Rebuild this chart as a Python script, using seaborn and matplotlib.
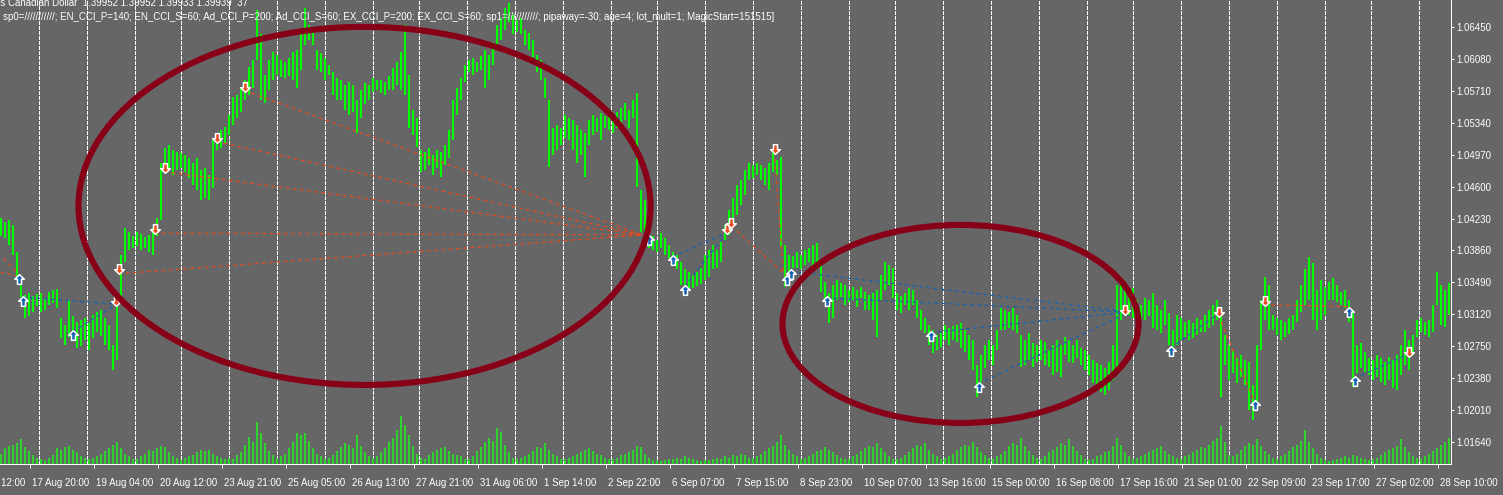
"""
MT4-style H2 bar chart with trade arrows, volumes and two hand-drawn ellipses.
"""
import matplotlib
matplotlib.use("Agg")
import matplotlib.pyplot as plt
import matplotlib.transforms as mtransforms
from matplotlib.patches import Ellipse
from matplotlib.path import Path
import numpy as np
import seaborn as sns

# ---------------- data (one entry per H2 bar) ----------------
highs = [
    1.0424, 1.0419, 1.0421, 1.0416, 1.0384, 1.0357, 1.0335, 1.0337, 1.0333, 1.0336,
    1.0337, 1.0331, 1.0338, 1.0340, 1.0341, 1.0308, 1.0300, 1.0329, 1.0310, 1.0303,
    1.0306, 1.0308, 1.0302, 1.0311, 1.0315, 1.0317, 1.0308, 1.0300, 1.0277, 1.0329,
    1.0381, 1.0412, 1.0407, 1.0403, 1.0407, 1.0405, 1.0402, 1.0404, 1.0412, 1.0424,
    1.0487, 1.0505, 1.0508, 1.0502, 1.0500, 1.0499, 1.0497, 1.0493, 1.0487, 1.0493,
    1.0479, 1.0482, 1.0473, 1.0514, 1.0520, 1.0526, 1.0529, 1.0543, 1.0564, 1.0566,
    1.0574, 1.0583, 1.0598, 1.0607, 1.0664, 1.0636, 1.0589, 1.0607, 1.0616, 1.0612,
    1.0607, 1.0604, 1.0609, 1.0616, 1.0618, 1.0636, 1.0667, 1.0647, 1.0644, 1.0618,
    1.0615, 1.0609, 1.0601, 1.0593, 1.0586, 1.0583, 1.0578, 1.0581, 1.0578, 1.0560,
    1.0572, 1.0580, 1.0578, 1.0586, 1.0583, 1.0583, 1.0581, 1.0588, 1.0597, 1.0604,
    1.0616, 1.0647, 1.0589, 1.0549, 1.0539, 1.0502, 1.0500, 1.0505, 1.0497, 1.0502,
    1.0500, 1.0508, 1.0526, 1.0560, 1.0574, 1.0586, 1.0601, 1.0607, 1.0609, 1.0604,
    1.0611, 1.0618, 1.0612, 1.0627, 1.0647, 1.0655, 1.0667, 1.0673, 1.0659, 1.0653,
    1.0655, 1.0641, 1.0638, 1.0630, 1.0612, 1.0607, 1.0586, 1.0560, 1.0528, 1.0531,
    1.0528, 1.0543, 1.0539, 1.0537, 1.0531, 1.0526, 1.0522, 1.0537, 1.0543, 1.0539,
    1.0545, 1.0542, 1.0546, 1.0539, 1.0546, 1.0551, 1.0557, 1.0549, 1.0560, 1.0568,
    1.0456, 1.0444, 1.0407, 1.0403, 1.0398, 1.0406, 1.0401, 1.0392, 1.0384, 1.0381,
    1.0373, 1.0364, 1.0361, 1.0358, 1.0361, 1.0366, 1.0381, 1.0387, 1.0392, 1.0387,
    1.0396, 1.0416, 1.0433, 1.0447, 1.0462, 1.0468, 1.0479, 1.0487, 1.0485, 1.0487,
    1.0485, 1.0482, 1.0487, 1.0502, 1.0491, 1.0494, 1.0392, 1.0381, 1.0380, 1.0384,
    1.0381, 1.0387, 1.0389, 1.0392, 1.0395, 1.0369, 1.0350, 1.0337, 1.0346, 1.0352,
    1.0348, 1.0346, 1.0340, 1.0344, 1.0340, 1.0344, 1.0338, 1.0335, 1.0337, 1.0340,
    1.0358, 1.0373, 1.0369, 1.0366, 1.0337, 1.0333, 1.0337, 1.0343, 1.0340, 1.0329,
    1.0317, 1.0308, 1.0300, 1.0294, 1.0288, 1.0291, 1.0300, 1.0296, 1.0299, 1.0300,
    1.0302, 1.0294, 1.0288, 1.0282, 1.0254, 1.0265, 1.0277, 1.0282, 1.0277, 1.0294,
    1.0320, 1.0317, 1.0315, 1.0320, 1.0311, 1.0288, 1.0282, 1.0291, 1.0279, 1.0277,
    1.0282, 1.0280, 1.0271, 1.0277, 1.0282, 1.0277, 1.0286, 1.0282, 1.0277, 1.0282,
    1.0273, 1.0271, 1.0265, 1.0259, 1.0256, 1.0254, 1.0250, 1.0257, 1.0277, 1.0346,
    1.0350, 1.0340, 1.0335, 1.0343, 1.0329, 1.0323, 1.0331, 1.0329, 1.0337, 1.0323,
    1.0317, 1.0329, 1.0314, 1.0294, 1.0311, 1.0308, 1.0303, 1.0306, 1.0302, 1.0308,
    1.0306, 1.0311, 1.0317, 1.0323, 1.0329, 1.0317, 1.0288, 1.0277, 1.0271, 1.0262,
    1.0265, 1.0259, 1.0257, 1.0230, 1.0277, 1.0329, 1.0355, 1.0346, 1.0311, 1.0308,
    1.0306, 1.0303, 1.0308, 1.0311, 1.0329, 1.0346, 1.0364, 1.0379, 1.0372, 1.0340,
    1.0352, 1.0344, 1.0350, 1.0354, 1.0346, 1.0338, 1.0340, 1.0329, 1.0314, 1.0277,
    1.0279, 1.0269, 1.0262, 1.0259, 1.0265, 1.0262, 1.0257, 1.0263, 1.0259, 1.0265,
    1.0277, 1.0294, 1.0282, 1.0288, 1.0306, 1.0308, 1.0303, 1.0306, 1.0323, 1.0361,
    1.0346, 1.0340, 1.0348,
]
lows = [
    1.0403, 1.0401, 1.0392, 1.0381, 1.0354, 1.0332, 1.0308, 1.0310, 1.0315, 1.0322,
    1.0315, 1.0317, 1.0323, 1.0325, 1.0320, 1.0285, 1.0277, 1.0286, 1.0282, 1.0273,
    1.0276, 1.0282, 1.0271, 1.0285, 1.0292, 1.0287, 1.0277, 1.0271, 1.0248, 1.0259,
    1.0329, 1.0373, 1.0387, 1.0389, 1.0391, 1.0387, 1.0389, 1.0384, 1.0381, 1.0403,
    1.0421, 1.0477, 1.0482, 1.0473, 1.0479, 1.0482, 1.0477, 1.0470, 1.0462, 1.0456,
    1.0444, 1.0447, 1.0444, 1.0458, 1.0502, 1.0505, 1.0510, 1.0520, 1.0531, 1.0539,
    1.0546, 1.0560, 1.0566, 1.0574, 1.0607, 1.0560, 1.0557, 1.0572, 1.0583, 1.0589,
    1.0587, 1.0586, 1.0588, 1.0583, 1.0574, 1.0595, 1.0624, 1.0630, 1.0624, 1.0595,
    1.0593, 1.0583, 1.0589, 1.0566, 1.0560, 1.0560, 1.0549, 1.0543, 1.0546, 1.0522,
    1.0539, 1.0555, 1.0560, 1.0570, 1.0572, 1.0568, 1.0566, 1.0572, 1.0572, 1.0578,
    1.0572, 1.0566, 1.0528, 1.0520, 1.0506, 1.0477, 1.0479, 1.0485, 1.0473, 1.0482,
    1.0471, 1.0485, 1.0493, 1.0514, 1.0543, 1.0560, 1.0581, 1.0592, 1.0589, 1.0593,
    1.0595, 1.0574, 1.0583, 1.0601, 1.0624, 1.0630, 1.0641, 1.0651, 1.0636, 1.0639,
    1.0636, 1.0624, 1.0618, 1.0610, 1.0593, 1.0583, 1.0563, 1.0483, 1.0497, 1.0502,
    1.0508, 1.0516, 1.0514, 1.0502, 1.0487, 1.0497, 1.0471, 1.0508, 1.0520, 1.0523,
    1.0514, 1.0528, 1.0526, 1.0522, 1.0528, 1.0532, 1.0537, 1.0528, 1.0539, 1.0460,
    1.0407, 1.0404, 1.0389, 1.0387, 1.0384, 1.0389, 1.0381, 1.0377, 1.0373, 1.0364,
    1.0346, 1.0344, 1.0340, 1.0343, 1.0345, 1.0347, 1.0352, 1.0355, 1.0364, 1.0366,
    1.0373, 1.0398, 1.0404, 1.0416, 1.0427, 1.0439, 1.0450, 1.0468, 1.0470, 1.0473,
    1.0468, 1.0462, 1.0456, 1.0477, 1.0473, 1.0390, 1.0344, 1.0361, 1.0366, 1.0366,
    1.0364, 1.0369, 1.0373, 1.0367, 1.0364, 1.0338, 1.0329, 1.0302, 1.0308, 1.0329,
    1.0332, 1.0323, 1.0326, 1.0329, 1.0321, 1.0331, 1.0317, 1.0317, 1.0306, 1.0286,
    1.0329, 1.0340, 1.0346, 1.0331, 1.0317, 1.0314, 1.0323, 1.0317, 1.0323, 1.0308,
    1.0294, 1.0291, 1.0277, 1.0267, 1.0271, 1.0274, 1.0282, 1.0277, 1.0282, 1.0280,
    1.0273, 1.0269, 1.0259, 1.0248, 1.0217, 1.0225, 1.0250, 1.0259, 1.0254, 1.0271,
    1.0294, 1.0294, 1.0296, 1.0294, 1.0291, 1.0251, 1.0254, 1.0259, 1.0251, 1.0257,
    1.0259, 1.0254, 1.0251, 1.0242, 1.0245, 1.0240, 1.0265, 1.0257, 1.0256, 1.0262,
    1.0254, 1.0248, 1.0242, 1.0233, 1.0225, 1.0222, 1.0219, 1.0225, 1.0236, 1.0251,
    1.0306, 1.0315, 1.0311, 1.0308, 1.0306, 1.0308, 1.0306, 1.0310, 1.0296, 1.0294,
    1.0291, 1.0300, 1.0277, 1.0263, 1.0277, 1.0282, 1.0286, 1.0282, 1.0285, 1.0288,
    1.0292, 1.0292, 1.0296, 1.0300, 1.0306, 1.0217, 1.0254, 1.0236, 1.0244, 1.0233,
    1.0239, 1.0230, 1.0201, 1.0190, 1.0201, 1.0271, 1.0306, 1.0294, 1.0294, 1.0288,
    1.0282, 1.0286, 1.0289, 1.0294, 1.0303, 1.0315, 1.0323, 1.0329, 1.0306, 1.0294,
    1.0306, 1.0311, 1.0329, 1.0329, 1.0326, 1.0323, 1.0320, 1.0303, 1.0228, 1.0244,
    1.0250, 1.0245, 1.0242, 1.0236, 1.0239, 1.0234, 1.0230, 1.0236, 1.0227, 1.0225,
    1.0242, 1.0254, 1.0248, 1.0265, 1.0286, 1.0292, 1.0288, 1.0286, 1.0292, 1.0323,
    1.0300, 1.0297, 1.0311,
]
volumes = [
    8, 12, 14, 15, 16, 19, 13, 10, 7, 5,
    4, 3, 5, 7, 12, 11, 13, 14, 11, 9, 6, 5,
    4, 5, 6, 8, 10, 12, 15, 17, 12, 8, 6, 4,
    4, 6, 8, 11, 10, 12, 14, 13, 9, 6, 5,
    3, 5, 6, 7, 9, 11, 10, 11, 8, 6, 5, 4,
    5, 4, 7, 9, 15, 21, 17, 32, 24, 16, 10, 7,
    5, 6, 8, 12, 17, 24, 22, 24, 18, 12, 8, 6,
    4, 5, 7, 10, 13, 16, 15, 12, 22, 14, 9, 6,
    5, 6, 9, 12, 17, 20, 26, 37, 30, 22, 14, 8,
    5, 4, 7, 9, 11, 12, 13, 10, 8, 7, 6, 4,
    4, 6, 10, 13, 17, 20, 18, 28, 25, 15, 9, 5,
    4, 5, 6, 8, 10, 13, 12, 16, 11, 8, 6, 4,
    4, 5, 6, 8, 9, 11, 12, 10, 8, 7, 5, 4,
    4, 5, 7, 8, 9, 11, 14, 13, 8, 5, 3,
    3, 2, 3, 4, 4, 5, 4, 6, 5, 4, 3, 2,
    3, 3, 4, 5, 4, 6, 5, 7, 6, 8, 7, 5,
    5, 6, 8, 10, 12, 14, 17, 22, 15, 11, 8, 6,
    4, 5, 6, 8, 10, 11, 13, 11, 9, 7, 5, 4,
    4, 6, 8, 10, 12, 14, 13, 16, 12, 9, 6, 4,
    4, 5, 7, 9, 12, 15, 14, 16, 11, 8, 6, 4,
    5, 6, 8, 11, 13, 15, 14, 17, 13, 9, 7, 5,
    4, 6, 8, 10, 14, 16, 15, 20, 14, 10, 7, 5,
    4, 6, 9, 11, 13, 16, 15, 19, 14, 10, 7, 4,
    3, 4, 6, 7, 9, 10, 14, 20, 15, 9, 6,
    4, 5, 6, 8, 9, 11, 12, 14, 10, 8, 6, 5,
    4, 6, 7, 9, 11, 13, 12, 15, 18, 20, 29, 17,
    7, 6, 8, 11, 14, 16, 15, 19, 14, 10, 8, 5,
    4, 6, 8, 10, 13, 15, 18, 26, 17, 12, 8, 5,
    3, 2, 3, 4, 5, 6, 5, 7, 6, 5, 4, 3,
    4, 5, 7, 9, 11, 12, 14, 19, 13, 9, 6, 5,
    4, 6, 8, 10, 12, 15, 17, 20,
]

# trade arrows: bar index and price
sell_bar = [29.6, 28.9, 38.5, 41.0, 54.1, 61.1, 181.7, 182.7, 193.6, 281.1, 304.6, 316.1, 352.1]
sell_price = [1.0364, 1.0328, 1.0411, 1.0482, 1.0516, 1.0575, 1.0411, 1.0418, 1.0504,
              1.0317, 1.0315, 1.0328, 1.0269]
buy_bar = [4.6, 5.6, 18.1, 162.0, 168.0, 171.0, 196.5, 197.5, 206.5, 232.5, 244.6,
           292.6, 313.6, 337.1, 338.6]
buy_price = [1.0353, 1.0328, 1.0288, 1.0398, 1.0375, 1.0340, 1.0352, 1.0359, 1.0328,
             1.0287, 1.0228, 1.0270, 1.0207, 1.0315, 1.0235]

# open -> close links (bar0, price0, bar1, price1)
sell_links = [
    (29.5, 1.0359, 160.5, 1.0404), (38.5, 1.0406, 160.5, 1.0404),
    (41.0, 1.0477, 160.5, 1.0404), (54.0, 1.0512, 160.5, 1.0404),
    (61.0, 1.0571, 160.5, 1.0404), (0.0, 1.0361, 4.0, 1.0357),
    (0.75, 1.0377, 4.0, 1.0361), (182.75, 1.0414, 196.5, 1.0357),
    (193.5, 1.0500, 195.75, 1.0358), (304.5, 1.0311, 313.5, 1.0211),
    (316.0, 1.0323, 337.0, 1.0321),
]
buy_links = [
    (5.5, 1.0332, 28.75, 1.0324), (18.0, 1.0292, 28.75, 1.0323),
    (168.0, 1.0379, 181.5, 1.0406), (171.0, 1.0344, 181.0, 1.0403),
    (197.5, 1.0362, 280.5, 1.0316), (206.5, 1.0331, 280.5, 1.0315),
    (232.5, 1.0291, 280.5, 1.0314), (244.5, 1.0232, 280.5, 1.0311),
    (292.5, 1.0273, 304.5, 1.0313), (338.5, 1.0238, 352.0, 1.0266),
]

# day separators (bar index)
day_lines = [9.5, 21.5, 33.5, 45, 57, 69, 81, 93, 104.5, 116.5, 128.5, 140.5, 152.5,
             164, 176, 188, 200, 212, 223.5, 235.5, 247.5, 259.5, 271.5, 283, 295,
             307, 319, 331, 342.5, 354.5]

time_labels = ["16 Aug 12:00", "17 Aug 20:00", "19 Aug 04:00", "20 Aug 12:00",
               "23 Aug 21:00", "25 Aug 05:00", "26 Aug 13:00", "27 Aug 21:00",
               "31 Aug 06:00", "1 Sep 14:00", "2 Sep 22:00", "6 Sep 07:00",
               "7 Sep 15:00", "8 Sep 23:00", "10 Sep 07:00", "13 Sep 16:00",
               "15 Sep 00:00", "16 Sep 08:00", "17 Sep 16:00", "21 Sep 01:00",
               "22 Sep 09:00", "23 Sep 17:00", "27 Sep 02:00", "28 Sep 10:00"]
price_ticks = [1.0645, 1.0608, 1.0571, 1.0534, 1.0497, 1.0460, 1.0423, 1.0386,
               1.0349, 1.0312, 1.0275, 1.0238, 1.0201, 1.0164]

# ---------------- style ----------------
BG = "#666666"
BAR = "#00ff00"
VOL = "#2ed12e"
SELL = "#ea4a1e"
BUY = "#1462b4"
RING = "#870018"
PX = 0.72  # one pixel in points at dpi 100

sns.set_theme(style="dark", rc={"axes.facecolor": BG, "figure.facecolor": BG})
plt.rcParams["font.family"] = ["Liberation Sans", "DejaVu Sans"]

W, H = 1503, 495
AX_W, AX_H = 1451, 464
fig = plt.figure(figsize=(W / 100, H / 100), dpi=100)
fig.patch.set_facecolor(BG)
ax = fig.add_axes([0, (H - AX_H) / H, AX_W / W, AX_H / H])
ax_v = ax.twinx()
ax_v.set_zorder(1)
ax.set_zorder(2)
ax.patch.set_visible(False)
ax_v.patch.set_visible(False)

idx = np.arange(len(highs))
x_lo, x_hi = -0.125, (AX_W - 0.5) / 4
y_lo, y_hi = 1.013888, 1.067590
bar_x = idx + 0.125  # two-pixel bars sit on the pixel grid

# volumes + day grid (bottom layer)
ax_v.vlines(day_lines, 0, AX_H, colors="white", linestyles=(0, (3, 2)), lw=PX,
            antialiased=False)
ax_v.vlines(bar_x, 0, volumes, colors=VOL, lw=2 * PX, antialiased=False)
ax_v.set_ylim(0, AX_H / 1.3)
ax_v.set_yticks([])
for s in ax_v.spines.values():
    s.set_visible(False)

# price bars
ax.vlines(bar_x, lows, highs, colors=BAR, lw=2 * PX, antialiased=False, zorder=2)

# trade links
for x0, y0, x1, y1 in sell_links:
    ax.plot([x0, x1], [y0, y1], color=SELL, lw=1.2 * PX, ls=(0, (3, 3)), zorder=3)
for x0, y0, x1, y1 in buy_links:
    ax.plot([x0, x1], [y0, y1], color=BUY, lw=1.2 * PX, ls=(0, (3, 3)), zorder=3)

# arrows
up_verts = [(0, 1), (1, 0.05), (0.42, 0.05), (0.42, -1), (-0.42, -1), (-0.42, 0.05),
            (-1, 0.05), (0, 1)]
codes = [Path.MOVETO] + [Path.LINETO] * 6 + [Path.CLOSEPOLY]
up_arrow = Path(up_verts, codes)
down_arrow = Path([(vx, -vy) for vx, vy in up_verts], codes)
sns.scatterplot(x=sell_bar, y=sell_price, marker=down_arrow, s=48, color=SELL,
                edgecolor="white", linewidth=1.1, ax=ax, zorder=4)
sns.scatterplot(x=buy_bar, y=buy_price, marker=up_arrow, s=48, color=BUY,
                edgecolor="white", linewidth=1.1, ax=ax, zorder=4)

# the two marker ellipses
ax.add_patch(Ellipse((91, 1.04376), 143, 0.04144, fill=False, ec=RING, lw=4.4, zorder=5))
ax.add_patch(Ellipse((240, 1.0301), 89, 0.02292, fill=False, ec=RING, lw=4.4, zorder=5))

ax.set_xlim(x_lo, x_hi)
ax.set_ylim(y_lo, y_hi)

# axes look
for side in ["top", "left"]:
    ax.spines[side].set_visible(False)
for side in ["right", "bottom"]:
    ax.spines[side].set_color("white")
    ax.spines[side].set_linewidth(PX)
ax.grid(False)
ax_v.grid(False)

ax.yaxis.set_ticks_position("right")
ax.set_yticks(price_ticks)
ax.set_yticklabels([f"{v:.5f}" for v in price_ticks])
ax.tick_params(axis="y", direction="out", length=2.5, width=PX, color="white",
               labelcolor="white", labelsize=7, pad=1.5, right=True, left=False)

label_bars = [7.4 + 16 * (k - 1) for k in range(len(time_labels))]
visible = [b for b in label_bars if b >= x_lo]
ax.set_xticks(visible)
ax.set_xticklabels([""] * len(visible))
ax.tick_params(axis="x", direction="out", length=3, width=PX, color="white", bottom=True)
lab_tr = mtransforms.offset_copy(
    mtransforms.blended_transform_factory(ax.transData, ax.transAxes),
    fig=fig, x=2, y=-19, units="dots")
for b, t in zip(label_bars, time_labels):
    ax.text(b, 0, t, transform=lab_tr, ha="left", va="center", color="white",
            fontsize=7, clip_on=False)

# header lines
fig.text(-3 / W, 1 - 5.5 / H,
         "rs Canadian Dollar  1.39952 1.39952 1.39933 1.39939  37",
         color="white", fontsize=7.0, ha="left", va="baseline")
fig.text(3 / W, 1 - 20.5 / H,
         "sp0=///////////; EN_CCI_P=140; EN_CCI_S=60; Ad_CCI_P=200; Ad_CCI_S=60; "
         "EX_CCI_P=200; EX_CCI_S=60; sp1=///////////; pipaway=-30; age=4; lot_mult=1; "
         "MagicStart=151515]",
         color="white", fontsize=7.0, ha="left", va="baseline")

fig.savefig("out.png", dpi=100, facecolor=BG)
